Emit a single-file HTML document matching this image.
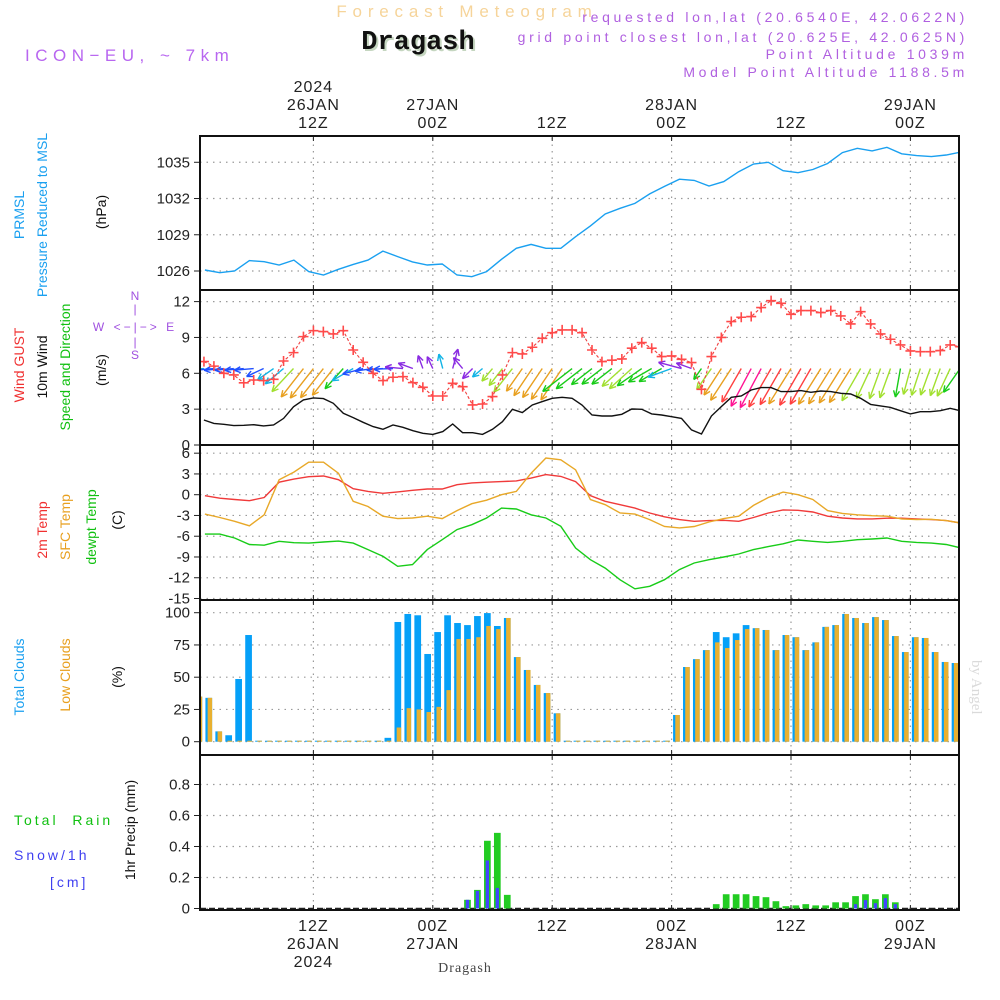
<!DOCTYPE html>
<html><head><meta charset="utf-8"><style>
html,body{margin:0;padding:0;background:#fff;}
svg{display:block;font-family:"Liberation Sans",sans-serif;}
</style></head><body>
<svg id="chart" xmlns="http://www.w3.org/2000/svg" width="1000" height="1000" viewBox="0 0 1000 1000">
<rect width="1000" height="1000" fill="#fff"/>
<text x="467" y="17" text-anchor="middle" font-size="17" letter-spacing="5.8" fill="#f6d49a">Forecast Meteogram</text>
<text x="420" y="51" text-anchor="middle" font-family="Liberation Mono,monospace" font-weight="bold" font-size="27" fill="#c5d6c0">Dragash</text>
<text x="418" y="49" text-anchor="middle" font-family="Liberation Mono,monospace" font-weight="bold" font-size="27" fill="#111">Dragash</text>
<text x="25" y="61" font-size="17" letter-spacing="5.5" fill="#b866f0">ICON−EU, ~ 7km</text>
<g font-size="14" letter-spacing="3.7" fill="#b060e0" text-anchor="end">
<text x="968" y="22">requested lon,lat (20.6540E, 42.0622N)</text>
<text x="968" y="42">grid point closest lon,lat (20.625E, 42.0625N)</text>
<text x="968" y="59">Point Altitude 1039m</text>
<text x="968" y="77">Model Point Altitude 1188.5m</text>
</g>
<g font-size="14">
<text transform="translate(24,215) rotate(-90)" text-anchor="middle" fill="#1aa0f0">PRMSL</text>
<text transform="translate(47,215) rotate(-90)" text-anchor="middle" fill="#1aa0f0">Pressure Reduced to MSL</text>
<text transform="translate(106,212) rotate(-90)" text-anchor="middle" fill="#111">(hPa)</text>
<text transform="translate(24,365) rotate(-90)" text-anchor="middle" fill="#f03030">Wind GUST</text>
<text transform="translate(47,367) rotate(-90)" text-anchor="middle" fill="#111">10m Wind</text>
<text transform="translate(70,367) rotate(-90)" text-anchor="middle" fill="#10c010">Speed and Direction</text>
<text transform="translate(106,370) rotate(-90)" text-anchor="middle" fill="#111">(m/s)</text>
<text transform="translate(47,530) rotate(-90)" text-anchor="middle" fill="#f03030">2m Temp</text>
<text transform="translate(70,527) rotate(-90)" text-anchor="middle" fill="#e8a020">SFC Temp</text>
<text transform="translate(96,527) rotate(-90)" text-anchor="middle" fill="#10c010">dewpt Temp</text>
<text transform="translate(122,520) rotate(-90)" text-anchor="middle" fill="#111">(C)</text>
<text transform="translate(24,677) rotate(-90)" text-anchor="middle" fill="#1aa0f0">Total Clouds</text>
<text transform="translate(70,675) rotate(-90)" text-anchor="middle" fill="#e8a020">Low Clouds</text>
<text transform="translate(122,677) rotate(-90)" text-anchor="middle" fill="#111">(%)</text>
<text transform="translate(135,830) rotate(-90)" text-anchor="middle" fill="#111">1hr Precip (mm)</text>
<text x="14" y="825" fill="#10c010" letter-spacing="3" xml:space="preserve">Total  Rain</text>
<text x="14" y="860" fill="#4040f0" letter-spacing="3">Snow/1h</text>
<text x="50" y="887" fill="#4040f0" letter-spacing="3">[cm]</text>
</g>
<g font-size="12" fill="#a050e0" text-anchor="middle">
<text x="135" y="300">N</text><text x="135" y="313">|</text>
<text x="135" y="331" letter-spacing="3">W &lt;−|−&gt; E</text>
<text x="135" y="346">|</text><text x="135" y="359">S</text>
</g>
<text x="465" y="972" text-anchor="middle" font-family="Liberation Serif,serif" font-size="14" letter-spacing="1" fill="#444">Dragash</text>
<text transform="translate(972,660) rotate(90)" font-family="Liberation Serif,serif" font-size="15" fill="#dadada">by Angel</text>
<g id="plot"></g>
</svg>
<script>
// ---- data ----
const tickHours = [12, 24, 36, 48, 60, 72];
const topTickLabels = [["2024","26JAN","12Z"],["27JAN","00Z"],["12Z"],["28JAN","00Z"],["12Z"],["29JAN","00Z"]];
const bottomTickLabels = [["12Z","26JAN","2024"],["00Z","27JAN"],["12Z"],["00Z","28JAN"],["12Z"],["00Z","29JAN"]];
const pressureTicks = [1026, 1029, 1032, 1035];
const windTicks = [0, 3, 6, 9, 12];
const tempTicks = [6, 3, 0, -3, -6, -9, -12, -15];
const cloudTicks = [0, 25, 50, 75, 100];
const precipTicks = [0, 0.2, 0.4, 0.6, 0.8];
// pressure and temperatures sampled every 1.49 h from hour 1.1
const sampleStart = 1.1, sampleStep = 1.49;
const pressure = [1026.08,1025.86,1026,1026.86,1026.77,1026.5,1026.9,1025.95,1025.67,1026.14,1026.55,1026.9,1027.65,1027.19,1026.75,1026.5,1026.58,1025.67,1025.53,1025.95,1026.97,1027.88,1028.2,1027.88,1027.88,1028.84,1029.73,1030.72,1031.19,1031.6,1032.38,1033,1033.6,1033.5,1033.04,1033.4,1034.22,1034.86,1035,1034.3,1034.14,1034.4,1034.9,1035.8,1036.16,1035.94,1036.24,1035.7,1035.55,1035.47,1035.6,1035.85];
const temp2m = [-0.15,-0.5,-0.7,-0.87,-0.4,1.8,2.26,2.6,2.7,2.17,0.87,0.48,0.2,0.4,0.63,0.82,0.82,1.44,1.7,1.8,1.9,2.0,2.4,2.9,2.65,1.9,-0.15,-0.96,-1.44,-1.93,-2.65,-3.2,-3.6,-3.85,-3.75,-3.7,-3.85,-3.3,-2.65,-2.2,-2.26,-2.5,-3.1,-3.37,-3.5,-3.5,-3.4,-3.4,-3.5,-3.6,-3.75,-4.1];
const tempSfc = [-2.8,-3.3,-3.85,-4.5,-2.9,2.17,3.27,4.7,4.7,3.1,-0.96,-1.7,-3.1,-3.46,-3.37,-3.1,-3.46,-2.3,-1.3,-0.8,0,0.48,3.1,5.3,5.05,3.6,-0.7,-1.44,-2.65,-2.8,-3.6,-4.6,-4.8,-4.6,-3.95,-3.46,-3.1,-1.54,-0.4,0.38,0,-0.7,-2.3,-2.7,-2.9,-3.03,-3.1,-3.5,-3.6,-3.56,-3.75,-4.1];
const dewpoint = [-5.7,-5.7,-6.26,-7.2,-7.3,-6.74,-6.93,-7.0,-6.84,-6.7,-7,-7.94,-8.9,-10.35,-10.1,-7.94,-6.5,-5.05,-4.33,-3.37,-1.93,-2.07,-2.9,-3.37,-4.57,-7.7,-9.4,-10.6,-12.3,-13.6,-13.24,-12.28,-10.83,-9.87,-9.4,-9,-8.57,-7.94,-7.5,-7.1,-6.55,-6.74,-6.9,-6.74,-6.5,-6.4,-6.26,-6.74,-6.9,-7,-7.2,-7.7];
// hourly series, hour 1..77
const windGust = [6.98,6.6,6.0,5.86,5.2,5.44,5.39,5.5,7.03,7.73,9.07,9.57,9.49,9.29,9.57,7.95,6.92,6.0,5.39,5.67,5.72,5.22,4.83,4.1,4.1,5.16,4.88,3.35,3.43,4.05,5.86,7.73,7.62,8.18,8.93,9.4,9.63,9.63,9.4,7.95,6.98,7.1,7.2,8.1,8.57,8.1,7.4,7.45,7.17,6.9,4.66,7.4,9.0,10.33,10.69,10.75,11.5,12.08,11.86,10.94,11.25,11.25,11.08,11.25,10.8,10.13,11.16,10.13,9.29,8.85,8.37,7.87,7.81,7.81,7.9,8.37,8.23];
const windSpeed = [2.09,1.81,1.73,1.62,1.65,1.7,1.6,1.67,2.23,3.2,3.77,3.94,3.88,3.49,2.65,2.29,1.9,1.54,1.31,1.67,1.48,1.2,0.98,0.89,1.12,1.76,1.03,1.03,0.89,1.31,1.95,2.99,2.71,3.35,3.63,3.91,3.99,3.91,3.35,2.51,2.43,2.43,2.57,3.01,2.99,2.6,2.51,2.37,2.23,1.26,0.92,2.43,3.21,3.99,4.1,4.6,4.8,4.8,4.47,4.47,4.55,4.41,4.52,4.47,4.33,4.27,3.91,3.4,3.27,3.15,2.87,2.6,2.79,2.79,2.87,3.07,2.87];
// direction the arrow points (compass deg) and colour class per hour
const windToDir = [265,265,265,265,265,265,245,235,230,223,218,218,218,218,222,240,255,262,265,268,275,290,340,335,345,15,320,225,230,220,218,218,215,214,214,214,214,232,232,232,232,232,228,228,235,240,240,250,285,290,215,215,213,213,210,208,208,210,210,212,210,210,212,212,212,212,210,205,200,200,190,195,198,200,200,205,215];
const windColorClass = ["C","B","B","B","B","B","B","C","C","LG","O","O","O","O","G","C","B","B","B","B","P","P","P","P","C","P","P","P","C","LG","LG","LG","O","O","O","O","O","G","G","G","G","G","LG","LG","G","G","G","C","P","P","G","LG","O","O","R","M","M","R","R","O","R","R","O","O","O","O","LG","LG","LG","LG","G","LG","LG","LG","LG","LG","G"];
// cloud cover per hour bar i (centred at hour i+0.5)
const totalClouds = [35,34,8,5,48.6,82.7,0,0,0,0,0,0,0,0,0,0,0,0,0,3,92.8,99,98,68,85,98,92,90.4,97.4,99.7,89.7,95.9,65.6,55.6,44,37.7,22,0,0,0,0,0,0,0,0,0,0,0,20.7,57.9,64,71,85,81,84,90.4,88,86.6,71,82.7,81,71,77,89,90.4,99,95.9,92,96.6,94.3,81.9,69.5,81,80.4,69.5,61.8,61];
const lowClouds = [35,34,8,0,0,0,0,0,0,0,0,0,0,0,0,0,0,0,0,0,11,26,25,23,27,40,79.6,79.6,81,89.7,87.3,95.9,65.6,55.6,44,37.7,22,0,0,0,0,0,0,0,0,0,0,0,20.7,57.9,64,71,77,72.6,78.8,87.3,88,86.6,71,82.7,81,71,77,89,90.4,99,95.9,92,96.6,94.3,81.9,69.5,81,80.4,69.5,61.8,61];
const precipBarIndex = [27,28,29,30,31,52,53,54,55,56,57,58,59,60,61,62,63,64,65,66,67,68,69,70];
const rainMm = [0.056,0.12,0.437,0.488,0.088,0.028,0.092,0.092,0.092,0.08,0.073,0.047,0.015,0.02,0.028,0.02,0.02,0.04,0.04,0.08,0.092,0.06,0.092,0.04];
const snowCm = [0.056,0.114,0.31,0.133,0,0,0,0,0,0,0,0,0,0,0,0,0,0,0,0.028,0.054,0.034,0.067,0.028];

// ---- axes ----
const NS = "http://www.w3.org/2000/svg";
const PL = 200, PR = 959;
const xT = h => 194 + 9.95 * h;
const yP = p => 271 - (p - 1026) * 12.08;
const yW = v => 445 - v * 11.95;
const yT = t => 494.7 - t * 6.92;
const yC = c => 741.7 - c * 1.29;
const yR = r => 908.5 - r * 155;
const panels = [[136, 290], [290, 445], [445, 600], [600, 755], [755, 910]];
const colors = {B:"#2050ff", C:"#12b4e6", P:"#8a2be2", LG:"#a2e030", G:"#18cc18", O:"#e8a020", R:"#ff4040", M:"#ff1493"};
const root = document.getElementById("plot");
function el(tag, attrs, parent) {
  const e = document.createElementNS(NS, tag);
  for (const k in attrs) e.setAttribute(k, attrs[k]);
  (parent || root).appendChild(e);
  return e;
}
const defs = el("defs", {});
panels.forEach((p, i) => {
  const cp = el("clipPath", {id: "clip" + i}, defs);
  el("rect", {x: PL, y: p[0], width: PR - PL, height: p[1] - p[0]}, cp);
});

// grids
const grid = el("g", {stroke: "#9a9a9a", "stroke-width": 1.2, "stroke-dasharray": "1.5,5"});


panels.forEach(p => tickHours.forEach(h => el("line", {x1: xT(h), x2: xT(h), y1: p[0] + 2, y2: p[1] - 2}, grid)));
function hgrid(ticks, yf, name, fmt) {
  const g = el("g", {});
  
  
  ticks.forEach(t => {
    el("line", {x1: PL, x2: PR, y1: yf(t), y2: yf(t), stroke: "#9a9a9a", "stroke-width": 1.2, "stroke-dasharray": "1.5,5"}, g);
    el("line", {x1: PL - 6, x2: PL, y1: yf(t), y2: yf(t), stroke: "#222", "stroke-width": 1}, g);
    const tx = el("text", {x: 190, y: yf(t) + 5, "text-anchor": "end", "font-size": 15, fill: "#222"}, g);
    tx.textContent = fmt ? fmt(t) : t;
  });
}
hgrid(pressureTicks, yP, "pressure-y-axis");
hgrid(windTicks, yW, "wind-y-axis");
hgrid(tempTicks, yT, "temp-y-axis");
hgrid(cloudTicks, yC, "cloud-y-axis");
hgrid(precipTicks, yR, "precip-y-axis", t => t === 0 ? "0" : t.toFixed(1));

// time labels
const tl = el("g", {"font-size": 16, "letter-spacing": 1, fill: "#222", "text-anchor": "middle"});


tickHours.forEach((h, i) => {
  const top = topTickLabels[i];
  top.forEach((s, j) => { const t = el("text", {x: xT(h), y: 128 - (top.length - 1 - j) * 18}, tl); t.textContent = s; });
  bottomTickLabels[i].forEach((s, j) => { const t = el("text", {x: xT(h), y: 931 + j * 18}, tl); t.textContent = s; });
  panels.forEach(p => {
    el("line", {x1: xT(h), x2: xT(h), y1: p[0], y2: p[0] + 5, stroke: "#222"}, tl);
    el("line", {x1: xT(h), x2: xT(h), y1: p[1] - 5, y2: p[1], stroke: "#222"}, tl);
  });
});

function line(vals, hf, yf, color, name, clip, extra) {
  const pts = vals.map((v, i) => xT(hf(i)).toFixed(1) + "," + yf(v).toFixed(1)).join(" ");
  const pl = el("polyline", Object.assign({points: pts, fill: "none", stroke: color, "stroke-width": 1.4, "clip-path": "url(#clip" + clip + ")"}, extra || {}));
  
  
  return pl;
}
const sampleH = i => sampleStart + sampleStep * i;
const hourH = i => i + 1;
line(pressure, sampleH, yP, "#1aa0f0", "pressure-line", 0);
line(temp2m, sampleH, yT, "#f03a3a", "temp-2m-line", 2);
line(tempSfc, sampleH, yT, "#e8a828", "sfc-temp-line", 2);
line(dewpoint, sampleH, yT, "#18cc18", "dewpoint-line", 2);

// wind arrows
const arrows = el("g", {"clip-path": "url(#clip1)", "stroke-width": 1.4, fill: "none"});


windToDir.forEach((d, i) => {
  const x0 = xT(hourH(i)), y0 = yW(6.4);
  const len = 8 * windSpeed[i] + 6;
  const r = d * Math.PI / 180;
  const x1 = x0 + Math.sin(r) * len, y1 = y0 - Math.cos(r) * len;
  const c = colors[windColorClass[i]];
  const g = el("g", {stroke: c}, arrows);
  
  
  el("line", {x1: x0, y1: y0, x2: x1, y2: y1}, g);
  [25, -25].forEach(a => {
    const rr = (d + 180 + a) * Math.PI / 180;
    el("line", {x1: x1, y1: y1, x2: x1 + Math.sin(rr) * 7, y2: y1 - Math.cos(rr) * 7}, g);
  });
});
line(windSpeed, hourH, yW, "#111", "wind-speed-line", 1);
line(windGust, hourH, yW, "#f04040", "wind-gust-line", 1, {"stroke-dasharray": "3,2", "stroke-width": 1.1});
const gm = el("g", {stroke: "#ff4a4a", "stroke-width": 1.6, "clip-path": "url(#clip1)"});


windGust.forEach((v, i) => {
  const x = xT(hourH(i)), y = yW(v);
  el("path", {d: `M${x - 5} ${y}H${x + 5}M${x} ${y - 5}V${y + 5}`}, gm);
});

// cloud bars
const cb = el("g", {"clip-path": "url(#clip3)"});


totalClouds.forEach((v, i) => {
  const c = xT(i + 0.5);
  const b = el("rect", {x: c - 3.5, y: yC(v) - (v ? 0 : 1), width: 6.7, height: Math.max(yC(0) - yC(v), 1), fill: "#05a0f8"}, cb);
  
  
  const lv = lowClouds[i];
  const o = el("rect", {x: c - 1.3, y: yC(lv) - (lv ? 0 : 1), width: 4.5, height: Math.max(yC(0) - yC(lv), 1), fill: "#e8b030"}, cb);
  
  
});

// precip bars
el("line", {x1: PL, x2: PR, y1: yR(0), y2: yR(0), stroke: "#222", "stroke-width": 1.5, "stroke-dasharray": "6,3"});
const pb = el("g", {"clip-path": "url(#clip4)"});


precipBarIndex.forEach((bi, k) => {
  const c = xT(bi + 0.5);
  const r = el("rect", {x: c - 3.5, y: yR(rainMm[k]), width: 6.7, height: yR(0) - yR(rainMm[k]), fill: "#22cc22"}, pb);
  
  
  if (snowCm[k] > 0) {
    const s = el("rect", {x: c - 1.8, y: yR(snowCm[k]), width: 3.3, height: yR(0) - yR(snowCm[k]), fill: "#4444ff"}, pb);
    
    
  }
});

// panel frames
const fr = el("g", {fill: "none", stroke: "#111", "stroke-width": 2});


panels.forEach(p => el("rect", {x: PL, y: p[0], width: PR - PL, height: p[1] - p[0]}, fr));
</script>
</body></html>
